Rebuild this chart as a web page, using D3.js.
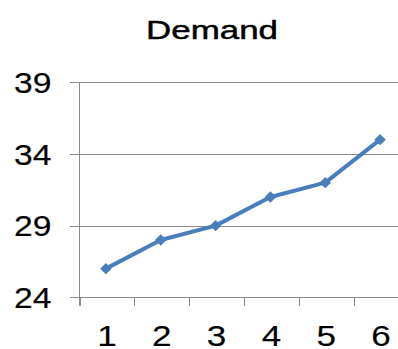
<!DOCTYPE html>
<html>
<head>
<meta charset="utf-8">
<script src="https://cdn.jsdelivr.net/npm/d3@7"></script>
<style>
  html, body { margin: 0; padding: 0; background: #fff; }
  svg { display: block; }
</style>
</head>
<body>
<svg id="chart" width="398" height="349"></svg>
<script>
const title = "Demand";
const categories = ["1", "2", "3", "4", "5", "6"];
const demand = [26, 28, 29, 31, 32, 35];
const yTicks = [24, 29, 34, 39];

(function () {
const svg = d3.select("#chart");
const W = 398, H = 349;
const pLeft = 79.5, pRight = 408.5, pTop = 82.3, pBottom = 297.3;

const x = d3.scaleBand().domain(categories).range([pLeft, pRight]);
const y = d3.scaleLinear().domain([24, 39]).range([pBottom, pTop]);

const gridColor = "#8c8c8c";
const font = "Liberation Sans, Arial, sans-serif";

// Gridlines
svg.append("g").selectAll("line").data(yTicks).join("line")
  .attr("x1", 70).attr("x2", W)
  .attr("y1", d => Math.round(y(d)) + 0.5).attr("y2", d => Math.round(y(d)) + 0.5)
  .attr("stroke", gridColor).attr("stroke-width", 1);

// Vertical axis line
svg.append("line")
  .attr("x1", pLeft).attr("x2", pLeft)
  .attr("y1", Math.round(y(39)) + 0.5).attr("y2", 306)
  .attr("stroke", gridColor).attr("stroke-width", 1);

// X tick marks at band boundaries
const bounds = categories.map(c => x(c));
svg.append("g").selectAll("line").data(bounds).join("line")
  .attr("x1", d => Math.round(d) + 0.5).attr("x2", d => Math.round(d) + 0.5)
  .attr("y1", Math.round(pBottom) + 0.5).attr("y2", 306)
  .attr("stroke", gridColor).attr("stroke-width", 1);

// Y labels
svg.append("g").selectAll("text").data(yTicks).join("text")
  .attr("x", 51.5).attr("y", d => y(d))
  .attr("dy", "0.37em")
  .attr("text-anchor", "end")
  .attr("font-family", font).attr("font-size", 29)
  .attr("fill", "#000").attr("stroke", "#000").attr("stroke-width", 0.15)
  .attr("textLength", 37.5).attr("lengthAdjust", "spacingAndGlyphs")
  .text(d => d);

// X labels
svg.append("g").selectAll("text").data(categories).join("text")
  .attr("x", d => x(d) + x.bandwidth() / 2)
  .attr("y", 345.5)
  .attr("text-anchor", "middle")
  .attr("font-family", font).attr("font-size", 29)
  .attr("fill", "#000").attr("stroke", "#000").attr("stroke-width", 0.15)
  .attr("textLength", 19.5).attr("lengthAdjust", "spacingAndGlyphs")
  .text(d => d);

// Title
svg.append("text")
  .attr("x", 212).attr("y", 38.5)
  .attr("text-anchor", "middle")
  .attr("font-family", font).attr("font-size", 25.5)
  .attr("fill", "#000").attr("stroke", "#000").attr("stroke-width", 0.45)
  .attr("textLength", 132).attr("lengthAdjust", "spacingAndGlyphs")
  .text(title);

// Line
const color = "#4a7ebb";
const line = d3.line()
  .x((d, i) => x(categories[i]) + x.bandwidth() / 2 - 1)
  .y(d => y(d));
svg.append("path").datum(demand)
  .attr("d", line)
  .attr("fill", "none").attr("stroke", color)
  .attr("stroke-width", 4).attr("stroke-linejoin", "round");

// Diamond markers
const sym = d3.symbol().type(d3.symbolDiamond2).size(84);
svg.append("g").selectAll("path").data(demand).join("path")
  .attr("transform", (d, i) => `translate(${x(categories[i]) + x.bandwidth() / 2 - 1},${y(d)})`)
  .attr("d", sym)
  .attr("fill", color);
})();
</script>
</body>
</html>
